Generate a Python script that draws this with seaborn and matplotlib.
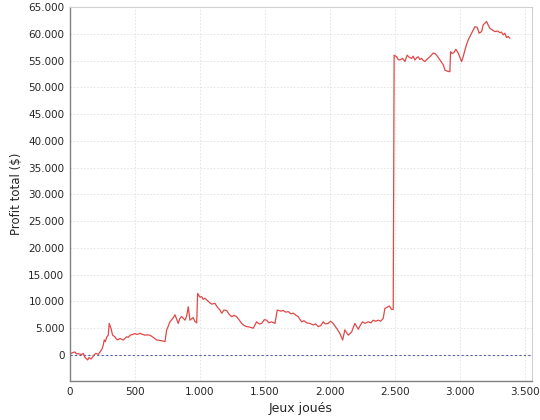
import pandas as pd
import matplotlib
matplotlib.use('Agg')
import matplotlib.pyplot as plt
import matplotlib.ticker as mticker
import seaborn as sns

# ── Data (games played, cumulative profit $) ──────────────────────────────────
games = [0, 8, 22, 38, 50, 64, 90, 102, 115, 136, 146, 162, 179, 198, 218, 238,
         248, 256, 264, 272, 282, 295, 302, 315, 328, 346, 356, 367, 385, 398,
         410, 436, 450, 462, 480, 500, 512, 525, 540, 552, 565, 577, 595, 615,
         640, 667, 700, 731, 744, 755, 769, 790, 808, 833, 845, 859, 885, 898,
         910, 923, 948, 960, 975, 982, 1000, 1013, 1025, 1038, 1064, 1078, 1090,
         1115, 1135, 1154, 1167, 1185, 1205, 1225, 1244, 1262, 1282, 1300, 1321,
         1340, 1359, 1385, 1410, 1436, 1455, 1475, 1495, 1513, 1530, 1551, 1577,
         1595, 1620, 1641, 1660, 1679, 1700, 1718, 1740, 1756, 1782, 1800, 1821,
         1845, 1872, 1890, 1910, 1930, 1948, 1965, 1987, 2005, 2021, 2051, 2077,
         2098, 2115, 2141, 2167, 2192, 2218, 2235, 2251, 2270, 2295, 2315, 2333,
         2350, 2372, 2390, 2410, 2423, 2440, 2456, 2475, 2487, 2494, 2513, 2525,
         2538, 2559, 2577, 2594, 2610, 2628, 2640, 2654, 2667, 2679, 2692, 2705,
         2718, 2731, 2750, 2769, 2795, 2808, 2821, 2846, 2872, 2885, 2905, 2923,
         2928, 2940, 2954, 2969, 2987, 3013, 3025, 3046, 3064, 3090, 3115, 3133,
         3148, 3167, 3179, 3205, 3218, 3231, 3250, 3269, 3290, 3308, 3320, 3333,
         3346, 3359, 3372, 3385]
profit = [0, 300, 450, 560, 200, 250, 60, 300, -430, -930, -500, -750, -200,
          300, 130, 800, 1200, 1870, 2800, 2500, 3300, 3750, 5900, 5000, 3700,
          3400, 3000, 2800, 3100, 2900, 2800, 3400, 3300, 3700, 3800, 4000, 3850,
          3900, 4050, 3900, 3800, 3700, 3750, 3700, 3300, 2800, 2700, 2500, 4700,
          5300, 6200, 6800, 7500, 5900, 6800, 7200, 6500, 7300, 9000, 6500, 7000,
          6300, 6000, 11500, 10800, 10900, 10400, 10600, 10000, 9700, 9500, 9650,
          8900, 8400, 7800, 8400, 8300, 7600, 7150, 7400, 7150, 6600, 5900, 5500,
          5300, 5200, 5000, 6200, 5800, 5900, 6600, 6500, 6000, 6200, 5900, 8400,
          8200, 8300, 8000, 8100, 7700, 7800, 7400, 7150, 6200, 6400, 6000, 5900,
          5600, 5800, 5300, 5500, 6200, 5800, 5900, 6300, 6000, 5000, 4000, 2800,
          4700, 3700, 4300, 5900, 4800, 5600, 6200, 5900, 6200, 6000, 6500, 6300,
          6500, 6300, 6850, 8700, 8900, 9150, 8500, 8500, 56000, 55700, 55200,
          55100, 55400, 54800, 56000, 55600, 55400, 55800, 55100, 55500, 55700,
          55200, 55400, 55000, 54800, 55300, 55700, 56400, 56300, 56000, 55100,
          54200, 53200, 53000, 52900, 56650, 56300, 56500, 57100, 56400, 54800,
          55700, 57600, 58850, 60100, 61300, 61200, 60100, 60400, 61650, 62300,
          61600, 61000, 60700, 60400, 60500, 60200, 60300, 59800, 60100, 59300,
          59500, 59150]

x_ticks = list(range(0, 3501, 500))
y_ticks = list(range(0, 65001, 5000))


def fmt_thousands(v, pos=None):
    return f"{int(round(v)):,}".replace(",", ".")


df = pd.DataFrame({'games': games, 'profit': profit})

sns.set_style('white')
plt.rcParams['font.family'] = ['DejaVu Sans']

fig = plt.figure(figsize=(5.4, 4.2), dpi=100)
ax = fig.add_axes([0.1296, 0.0929, 0.8554, 0.8905])

sns.lineplot(data=df, x='games', y='profit', ax=ax, color='#e04848',
             linewidth=0.9, estimator=None, sort=False)

# zero marker line
ax.axhline(0, color='#5a64a8', linestyle=(0, (2, 2)), linewidth=0.8, zorder=1)

ax.set_xlim(0, 3554)
ax.set_ylim(-4857, 65000)
ax.set_xticks(x_ticks)
ax.set_yticks(y_ticks)
ax.xaxis.set_major_formatter(mticker.FuncFormatter(fmt_thousands))
ax.yaxis.set_major_formatter(mticker.FuncFormatter(fmt_thousands))
ax.tick_params(axis='both', labelsize=7.5, length=2, color='#808080', pad=2)

ax.grid(True, color='#e0e0e0', linestyle=(0, (2, 2)), linewidth=0.6)
ax.set_axisbelow(True)

for side in ['top', 'right']:
    ax.spines[side].set_color('#d0d0d0')
    ax.spines[side].set_linewidth(0.8)
for side in ['left', 'bottom']:
    ax.spines[side].set_color('#808080')
    ax.spines[side].set_linewidth(1.0)

ax.set_xlabel('Jeux joués', fontsize=9)
ax.set_ylabel('Profit total ($)', fontsize=8.5)

fig.savefig('out.png', dpi=100)
